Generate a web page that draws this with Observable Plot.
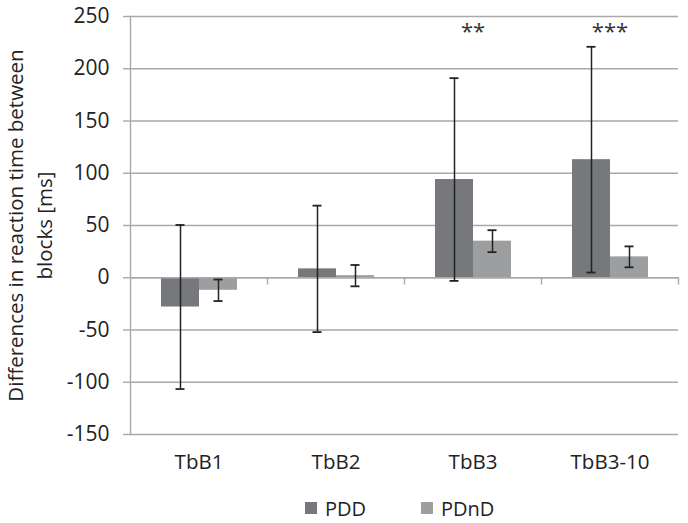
<!DOCTYPE html>
<html>
<head>
<meta charset="utf-8">
<script src="https://cdn.jsdelivr.net/npm/d3@7"></script>
<script src="https://cdn.jsdelivr.net/npm/@observablehq/plot@0.6"></script>
<style>
  body { margin: 0; background: #fff; font-family: "Open Sans", sans-serif; }
  #chart svg { display: block; }
  .legend { display: flex; align-items: center; padding-left: 305px; height: 56px; font-size: 20px; color: #222; }
  .legend .sw { width: 12px; height: 12px; margin-right: 8px; }
  .legend .item { display: flex; align-items: center; margin-right: 55px; }
</style>
</head>
<body>
<div id="chart"></div>
<script>
const categories = ["TbB1", "TbB2", "TbB3", "TbB3-10"];
const series = ["PDD", "PDnD"];
const pddMean = [-28, 8.5, 94, 113];
const pddErr = [78.5, 60.5, 97, 108];
const pdndMean = [-12, 2, 35, 20];
const pdndErr = [10.3, 10.2, 10.5, 10];
const stars = ["", "", "**", "***"];
const starLevel = [235, 235, 235, 235];
const yTicks = [-150, -100, -50, 0, 50, 100, 150, 200, 250];
const colors = ["#77787b", "#9d9ea0"];
const yLabel = "Differences in reaction time between\nblocks [ms]";

const rows = [];
categories.forEach((c, i) => {
  rows.push({cat: c, series: "PDD", mean: pddMean[i], lo: pddMean[i] - pddErr[i], hi: pddMean[i] + pddErr[i]});
  rows.push({cat: c, series: "PDnD", mean: pdndMean[i], lo: pdndMean[i] - pdndErr[i], hi: pdndMean[i] + pdndErr[i]});
});
const starRows = categories.map((c, i) => ({cat: c, s: stars[i], y: starLevel[i]}));

const gridColor = "#a9a9a9";
const chart = Plot.plot({
  width: 688,
  height: 480,
  marginLeft: 129,
  marginRight: 10,
  marginTop: 16,
  marginBottom: 46,
  style: {fontFamily: "Open Sans", fontSize: "20px", color: "#222", background: "#fff"},
  fx: {domain: categories, padding: 0, label: null, axis: null},
  x: {domain: series, axis: null, paddingInner: 0, paddingOuter: 0.76},
  y: {domain: [-150, 250]},
  color: {domain: series, range: colors},
  marks: [
    Plot.gridY(yTicks, {stroke: gridColor, strokeOpacity: 1, strokeWidth: 1.4}),
    Plot.frame({anchor: "left", facetAnchor: "left", stroke: gridColor, strokeWidth: 1.4}),
    Plot.axisY(yTicks, {facetAnchor: "left", tickSize: 7, tickPadding: 14, stroke: gridColor, strokeWidth: 1.4, fontSize: 21, tickFormat: d => String(d), label: null}),
    Plot.text([yLabel], {facetAnchor: "left", frameAnchor: "left", rotate: -90, dx: -102.5, fontSize: 20.5, lineHeight: 1.4, fill: "#222", textAnchor: "middle", lineAnchor: "middle"}),
    Plot.axisFx({anchor: "bottom", tickSize: 0, tickPadding: 20, fontSize: 20.5, label: null}),
    Plot.barY(rows, {fx: "cat", x: "series", y: "mean", fill: "series"}),
    Plot.ruleY([0], {stroke: gridColor, strokeWidth: 1.4}),
    Plot.ruleX(categories, {fx: d => d, x: () => "PDnD", y1: 0, y2: -7, dx: 49, stroke: gridColor, strokeWidth: 1.4}),
    Plot.ruleX(rows, {fx: "cat", x: "series", y1: "lo", y2: "hi", stroke: "#222", strokeWidth: 1.5}),
    Plot.tickY(rows, {fx: "cat", x: "series", y: "hi", insetLeft: 14.5, insetRight: 14.5, stroke: "#222", strokeWidth: 1.8}),
    Plot.tickY(rows, {fx: "cat", x: "series", y: "lo", insetLeft: 14.5, insetRight: 14.5, stroke: "#222", strokeWidth: 1.8}),
    Plot.text(starRows, {fx: "cat", y: "y", text: "s", fontSize: 22, fill: "#333"})
  ]
});
document.getElementById("chart").appendChild(chart);

const legend = document.createElement("div");
legend.className = "legend";
series.forEach((s, i) => {
  const item = document.createElement("div");
  item.className = "item";
  const sw = document.createElement("div");
  sw.className = "sw";
  sw.style.background = colors[i];
  const t = document.createElement("span");
  t.textContent = s;
  item.appendChild(sw);
  item.appendChild(t);
  legend.appendChild(item);
});
document.getElementById("chart").appendChild(legend);
</script>
</body>
</html>
